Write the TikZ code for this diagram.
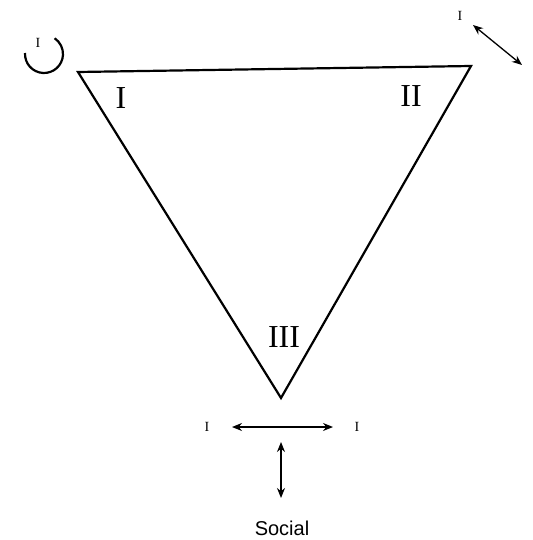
\documentclass[tikz,border=0pt]{standalone}
\usepackage{fontspec}
\setmainfont{Liberation Serif}
\newfontfamily\labsans{Liberation Sans}
\usetikzlibrary{arrows.meta}
\begin{document}
\begin{tikzpicture}[x=1pt,y=-1pt,
  edge/.style={line width=2.2pt,line join=miter},
  dbl/.style={line width=1.3pt,{Stealth[length=10pt,width=8pt]}-{Stealth[length=10pt,width=8pt]}},
  roman/.style={font=\fontsize{32}{34}\selectfont,inner sep=0pt},
  small/.style={font=\fontsize{14}{15}\selectfont,inner sep=0pt}]
\useasboundingbox (0,0) rectangle (532,540);
% triangle corners
\coordinate (A) at (78,72);
\coordinate (B) at (471,66);
\coordinate (C) at (281,398);
\draw[edge] (A) -- (B) -- (C) -- cycle;
\node[roman] (l1) at (121,98) {I};
\node[roman] (l2) at (411,96) {II};
\node[roman] (l3) at (284,337) {III};
% top-left loop
\coordinate (cc) at (44,54);
\draw[line width=2.2pt] ([shift={(183:19)}]cc) arc[start angle=183,end angle=-56,radius=19];
\node[small] (s0) at (38,43) {I};
% top-right arrow
\coordinate (tr1) at (473,25);
\coordinate (tr2) at (522,65);
\draw[dbl] (tr1) -- (tr2);
\node[small] (s1) at (460,16) {I};
% bottom arrows
\node[small] (s2) at (207,427) {I};
\node[small] (s3) at (357,427) {I};
\coordinate (h1) at (232,427);
\coordinate (h2) at (333,427);
\draw[dbl] (h1) -- (h2);
\coordinate (v1) at (281,442);
\coordinate (v2) at (281,498);
\draw[dbl] (v1) -- (v2);
\node[font=\labsans\fontsize{20}{22}\selectfont,inner sep=0pt] (soc) at (282,528) {Social};
\end{tikzpicture}
\end{document}
